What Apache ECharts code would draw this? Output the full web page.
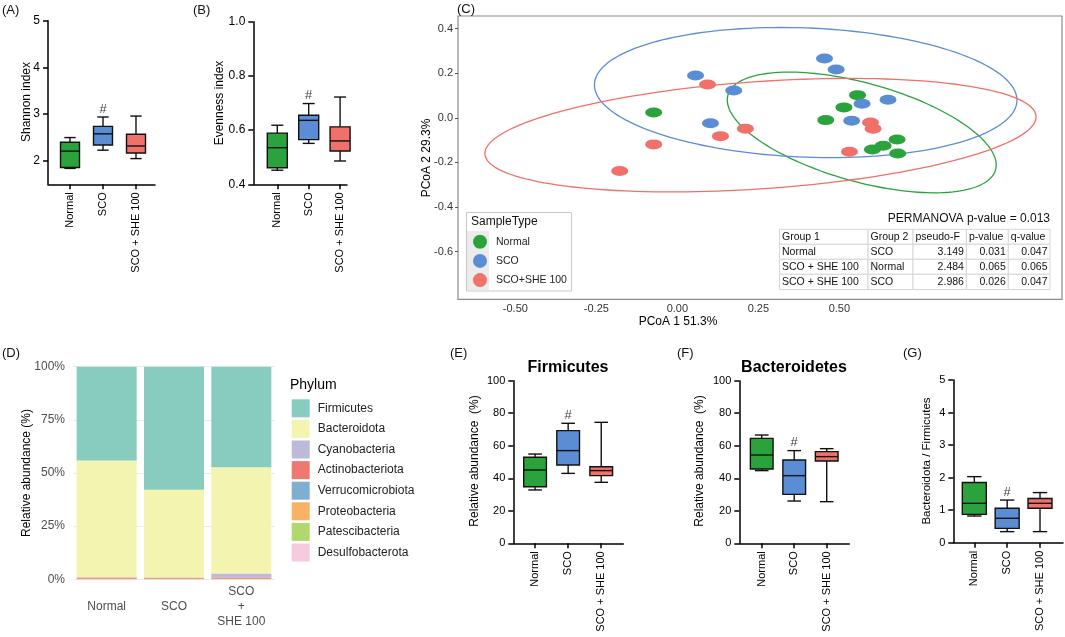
<!DOCTYPE html>
<html>
<head>
<meta charset="utf-8">
<script src="https://cdn.jsdelivr.net/npm/echarts@6/dist/echarts.min.js"></script>
<style>
  html, body { margin: 0; padding: 0; background: #fff; }
  #chart { width: 1065px; height: 637px; }
</style>
</head>
<body>
<div id="chart"></div>
<script>
// ---- data ----
var groups = ['Normal', 'SCO', 'SCO + SHE 100'];
var boxColors = ['#2ba33d', '#5b8dd5', '#f0706a'];
var sigMark = [false, true, false];   // '#' above SCO

// [min, q1, median, q3, max]
var shannonStats = [[1.84, 1.86, 2.21, 2.40, 2.50], [2.23, 2.34, 2.58, 2.74, 2.94], [2.05, 2.17, 2.32, 2.57, 2.96]];
var evennessStats = [[0.452, 0.461, 0.535, 0.589, 0.618], [0.551, 0.565, 0.636, 0.655, 0.698], [0.486, 0.523, 0.560, 0.612, 0.722]];
var firmicutesStats = [[32.8, 34.8, 45.1, 52.9, 54.9], [43.0, 48.2, 57.0, 69.3, 73.8], [37.5, 41.6, 44.7, 47.1, 74.4]];
var bacteroidetesStats = [[44.7, 45.7, 54.3, 64.5, 66.6], [26.0, 30.1, 41.6, 51.2, 57.0], [25.6, 50.6, 53.3, 56.4, 58.2]];
var ratioStats = [[0.82, 0.87, 1.21, 1.85, 2.03], [0.34, 0.44, 0.75, 1.06, 1.31], [0.34, 1.06, 1.21, 1.36, 1.54]];

// PCoA points [PCoA1, PCoA2]
var pcoaNormal = [[-0.073, 0.024], [0.556, 0.102], [0.514, 0.047], [0.458, -0.010], [0.678, -0.097], [0.635, -0.125], [0.602, -0.142], [0.680, -0.160]];
var pcoaSCO = [[0.454, 0.266], [0.490, 0.217], [0.056, 0.190], [0.174, 0.123], [0.570, 0.063], [0.650, 0.081], [0.538, -0.013], [0.102, -0.024]];
var pcoaSHE = [[0.093, 0.150], [0.210, -0.049], [0.133, -0.082], [-0.073, -0.119], [-0.178, -0.238], [0.596, -0.021], [0.604, -0.049], [0.531, -0.152]];
// ellipse: centre x, centre y, conjugate semi-axis u (x,y), v (x,y)
var ellipseNormal = [0.569, -0.0655, 0.415, -0.146, 0, 0.228];
var ellipseSCO = [0.396, 0.1135, 0.652, -0.034, 0, 0.290];
var ellipseSHE = [0.2565, -0.0776, 0.8505, 0.082, 0, 0.241];
var sampleTypes = ['Normal', 'SCO', 'SCO+SHE 100'];

var permanovaText = 'PERMANOVA p-value = 0.013';
var permanovaHeader = ['Group 1', 'Group 2', 'pseudo-F', 'p-value', 'q-value'];
var permanovaRows = [
  ['Normal', 'SCO', '3.149', '0.031', '0.047'],
  ['SCO + SHE 100', 'Normal', '2.484', '0.065', '0.065'],
  ['SCO + SHE 100', 'SCO', '2.986', '0.026', '0.047']
];

// phylum composition (%)
var phylumNames = ['Firmicutes', 'Bacteroidota', 'Cyanobacteria', 'Actinobacteriota', 'Verrucomicrobiota', 'Proteobacteria', 'Patescibacteria', 'Desulfobacterota'];
var phylumColors = ['#88cbbf', '#f4f4b1', '#bdb9d8', '#f0796f', '#7eaed0', '#f7b263', '#b0d86c', '#f6cbe0'];
var phylumGroups = ['Normal', 'SCO', 'SCO\n+\nSHE 100'];
var abundNormal = [44.1, 54.9, 0.1, 0.6, 0.1, 0.1, 0.05, 0.05];
var abundSCO = [57.85, 41.3, 0.1, 0.5, 0.05, 0.1, 0.05, 0.05];
var abundSHE = [47.3, 50.0, 1.8, 0.6, 0.1, 0.1, 0.05, 0.05];

// ---- helpers ----
var FONT = 'Liberation Sans, Arial, sans-serif';

function boxSeries(idx, stats, boxPx) {
  return {
    type: 'custom',
    xAxisIndex: idx, yAxisIndex: idx,
    data: stats.map(function (s, i) { return [i].concat(s); }),
    encode: { x: 0, y: [1, 2, 3, 4, 5] },
    renderItem: function (params, api) {
      var i = api.value(0);
      var lo = api.coord([i, api.value(1)]);
      var q1 = api.coord([i, api.value(2)]);
      var md = api.coord([i, api.value(3)]);
      var q3 = api.coord([i, api.value(4)]);
      var hi = api.coord([i, api.value(5)]);
      var x = lo[0], h = boxPx / 2, c = boxPx * 0.3;
      var st = { stroke: '#111', lineWidth: 1.4 };
      var kids = [
        { type: 'line', shape: { x1: x, y1: hi[1], x2: x, y2: q3[1] }, style: st },
        { type: 'line', shape: { x1: x, y1: q1[1], x2: x, y2: lo[1] }, style: st },
        { type: 'line', shape: { x1: x - c, y1: hi[1], x2: x + c, y2: hi[1] }, style: st },
        { type: 'line', shape: { x1: x - c, y1: lo[1], x2: x + c, y2: lo[1] }, style: st },
        { type: 'rect', shape: { x: x - h, y: q3[1], width: boxPx, height: q1[1] - q3[1] },
          style: { fill: boxColors[i], stroke: '#111', lineWidth: 1.4 } },
        { type: 'line', shape: { x1: x - h, y1: md[1], x2: x + h, y2: md[1] }, style: st }
      ];
      if (sigMark[i]) {
        kids.push({ type: 'text', x: x, y: hi[1] - 8,
          style: { text: '#', fill: '#444', font: '13px ' + FONT, align: 'center', verticalAlign: 'middle' } });
      }
      return { type: 'group', children: kids };
    }
  };
}

function gpX(idx, min, max, fs) {
  return {
    type: 'value', gridIndex: idx, min: min, max: max, position: 'bottom',
    axisLine: { show: true, onZero: false, lineStyle: { color: '#000', width: 1.5 } },
    axisTick: { show: true, customValues: [0, 1, 2], length: 5, lineStyle: { color: '#000', width: 1.5 } },
    axisLabel: { customValues: [0, 1, 2], rotate: 90, margin: 8, fontSize: fs, color: '#000',
      formatter: function (v) { return groups[Math.round(v)]; } },
    splitLine: { show: false }
  };
}

function gpY(idx, min, max, ticks, fs, digits) {
  return {
    type: 'value', gridIndex: idx, min: min, max: max,
    axisLine: { show: true, onZero: false, lineStyle: { color: '#000', width: 1.5 } },
    axisTick: { show: true, customValues: ticks, length: 5, lineStyle: { color: '#000', width: 1.5 } },
    axisLabel: { customValues: ticks, margin: 8, fontSize: fs, color: '#000',
      formatter: function (v) { return v.toFixed(digits); } },
    splitLine: { show: false }
  };
}

function txt(x, y, s, size, opts) {
  opts = opts || {};
  return {
    type: 'text', x: x, y: y, rotation: opts.rot || 0, z: 30,
    style: { text: s, font: (opts.bold ? 'bold ' : '') + size + 'px ' + FONT, fill: opts.color || '#111',
      align: opts.align || 'center', verticalAlign: 'middle' }
  };
}

function ellipseSeries() {
  return {
    type: 'custom', xAxisIndex: 2, yAxisIndex: 2, z: 1,
    data: [ellipseNormal, ellipseSCO, ellipseSHE],
    encode: { x: 0, y: 1 },
    renderItem: function (params, api) {
      var e = [0, 1, 2, 3, 4, 5].map(function (k) { return api.value(k); });
      var pts = [];
      for (var k = 0; k <= 160; k++) {
        var t = 2 * Math.PI * k / 160;
        pts.push(api.coord([e[0] + e[2] * Math.cos(t) + e[4] * Math.sin(t),
                            e[1] + e[3] * Math.cos(t) + e[5] * Math.sin(t)]));
      }
      return { type: 'polyline', shape: { points: pts },
        style: { stroke: boxColors[params.dataIndex], fill: 'none', lineWidth: 1.3 } };
    }
  };
}

// ---- graphic: titles, legend box, table ----
var graphic = [
  txt(2, 10, '(A)', 13, { align: 'left' }),
  txt(193, 10, '(B)', 13, { align: 'left' }),
  txt(457, 9, '(C)', 13, { align: 'left' }),
  txt(2, 353, '(D)', 13, { align: 'left' }),
  txt(450, 353, '(E)', 13, { align: 'left' }),
  txt(677, 353, '(F)', 13, { align: 'left' }),
  txt(903, 353, '(G)', 13, { align: 'left' }),
  txt(27, 102, 'Shannon index', 12, { rot: Math.PI / 2, color: '#000' }),
  txt(220, 103, 'Evenness index', 12, { rot: Math.PI / 2, color: '#000' }),
  txt(427, 158, 'PCoA 2 29.3%', 12, { rot: Math.PI / 2, color: '#000' }),
  txt(678, 322, 'PCoA 1 51.3%', 12, { color: '#000' }),
  txt(27, 473, 'Relative abundance (%)', 12, { rot: Math.PI / 2, color: '#000' }),
  txt(290, 385, 'Phylum', 14, { align: 'left', color: '#000' }),
  txt(568, 368, 'Firmicutes', 16, { bold: true, color: '#000' }),
  txt(794, 368, 'Bacteroidetes', 16, { bold: true, color: '#000' }),
  txt(475, 461, 'Relative abundance  (%)', 12, { rot: Math.PI / 2, color: '#000' }),
  txt(700, 461, 'Relative abundance  (%)', 12, { rot: Math.PI / 2, color: '#000' }),
  txt(927, 461, 'Bacteroidota / Firmicutes', 11.5, { rot: Math.PI / 2, color: '#000' }),
  // C legend box
  { type: 'rect', z: 15, shape: { x: 466.5, y: 212.5, width: 105, height: 78.5 },
    style: { fill: '#fff', stroke: '#c8c8c8', lineWidth: 1 } },
  { type: 'rect', z: 16, shape: { x: 467, y: 231, width: 22, height: 59 }, style: { fill: '#ececec' } },
  txt(471, 222, 'SampleType', 12, { align: 'left', color: '#111' }),
  txt(1050, 219, permanovaText, 12, { align: 'right', color: '#111' })
];
(function () {
  var colX = [779.5, 868, 913, 966.4, 1008.3, 1050];
  var rowY = [229.3, 244.3, 259.3, 274.3, 289.5];
  var rows = [permanovaHeader].concat(permanovaRows);
  rows.forEach(function (r, ri) {
    r.forEach(function (cell, ci) {
      graphic.push({ type: 'rect', z: 15,
        shape: { x: colX[ci], y: rowY[ri], width: colX[ci + 1] - colX[ci], height: rowY[ri + 1] - rowY[ri] },
        style: { fill: '#fff', stroke: '#d6d6d6', lineWidth: 1 } });
      var right = ri > 0 && ci >= 2;
      graphic.push(txt(right ? colX[ci + 1] - 2.5 : colX[ci] + 2.5, (rowY[ri] + rowY[ri + 1]) / 2, cell, 10.5,
        { align: right ? 'right' : 'left', color: '#111' }));
    });
  });
})();

// ---- stacked bars (bottom-up order) ----
var barSeries = [];
for (var p = phylumNames.length - 1; p >= 0; p--) {
  barSeries.push({
    type: 'bar', name: phylumNames[p], stack: 'phylum', xAxisIndex: 3, yAxisIndex: 3,
    barWidth: 60, itemStyle: { color: phylumColors[p] },
    data: [abundNormal[p], abundSCO[p], abundSHE[p]]
  });
}

var pcoaSeries = [pcoaNormal, pcoaSCO, pcoaSHE].map(function (d, i) {
  return { type: 'scatter', name: sampleTypes[i], xAxisIndex: 2, yAxisIndex: 2, z: 3,
    symbol: 'circle', symbolSize: [17, 10], itemStyle: { color: boxColors[i], opacity: 1 }, data: d };
});

var option = {
  animation: false,
  textStyle: { fontFamily: FONT },
  grid: [
    { left: 48, top: 20.7, width: 107, height: 163.6 },
    { left: 253.3, top: 21.7, width: 93.7, height: 162.6 },
    { left: 458, top: 16, width: 604, height: 283.3, show: true, borderColor: '#8c8c8c', borderWidth: 1.2, backgroundColor: '#fff' },
    { left: 73, top: 366.7, width: 202, height: 212.6 },
    { left: 513.3, top: 380.7, width: 110, height: 162.6 },
    { left: 739.3, top: 380.7, width: 110, height: 162.6 },
    { left: 953.3, top: 380, width: 109.7, height: 162.7 }
  ],
  xAxis: [
    gpX(0, -0.667, 2.576, 11),
    gpX(1, -0.764, 2.22, 11),
    { type: 'value', gridIndex: 2, min: -0.677, max: 1.187, position: 'bottom',
      axisLine: { show: false, onZero: false }, axisTick: { show: false },
      axisLabel: { customValues: [-0.5, -0.25, 0, 0.25, 0.5], margin: 4, fontSize: 11, color: '#333',
        formatter: function (v) { return v.toFixed(2); } },
      splitLine: { show: false } },
    { type: 'category', gridIndex: 3, data: phylumGroups,
      axisLine: { show: false }, axisTick: { show: false },
      axisLabel: { fontSize: 12, color: '#4d4d4d', margin: 27, verticalAlign: 'middle', lineHeight: 15 } },
    gpX(4, -0.658, 2.667, 11),
    gpX(5, -0.69, 2.695, 11),
    gpX(6, -0.64, 2.70, 11)
  ],
  yAxis: [
    gpY(0, 1.5, 5, [2, 3, 4, 5], 12, 0),
    gpY(1, 0.4, 1.0, [0.4, 0.6, 0.8, 1.0], 12, 1),
    { type: 'value', gridIndex: 2, min: -0.814, max: 0.457, position: 'left',
      axisLine: { show: false, onZero: false },
      axisTick: { show: true, customValues: [-0.6, -0.4, -0.2, 0, 0.2, 0.4], length: 3, lineStyle: { color: '#555' } },
      axisLabel: { customValues: [-0.6, -0.4, -0.2, 0, 0.2, 0.4], margin: 5, fontSize: 11, color: '#333',
        formatter: function (v) { return v.toFixed(1); } },
      splitLine: { show: false } },
    { type: 'value', gridIndex: 3, min: 0, max: 100, interval: 25,
      axisLine: { show: false }, axisTick: { show: false },
      axisLabel: { formatter: '{value}%', fontSize: 12, color: '#4d4d4d', margin: 8 },
      splitLine: { lineStyle: { color: '#ebebeb', width: 1 } } },
    gpY(4, 0, 100, [0, 20, 40, 60, 80, 100], 11, 0),
    gpY(5, 0, 100, [0, 20, 40, 60, 80, 100], 11, 0),
    gpY(6, 0, 5, [0, 1, 2, 3, 4, 5], 11, 0)
  ],
  legend: [
    { data: sampleTypes, orient: 'vertical', left: 468, top: 229.7, itemWidth: 14, itemHeight: 14,
      itemGap: 5.2, icon: 'circle', selectedMode: false, z: 20,
      textStyle: { fontSize: 10.5, color: '#222', padding: [0, 0, 0, 4] } },
    { data: phylumNames, orient: 'vertical', left: 286.7, top: 394.3, itemWidth: 18, itemHeight: 18,
      itemGap: 2.6, icon: 'rect', selectedMode: false,
      textStyle: { fontSize: 12, color: '#222', padding: [0, 0, 0, 3] } }
  ],
  graphic: graphic,
  series: [
    boxSeries(0, shannonStats, 19),
    boxSeries(1, evennessStats, 20),
    ellipseSeries()
  ].concat(pcoaSeries, barSeries, [
    boxSeries(4, firmicutesStats, 22.7),
    boxSeries(5, bacteroidetesStats, 22.7),
    boxSeries(6, ratioStats, 24)
  ])
};

var chart = echarts.init(document.getElementById('chart'));
chart.setOption(option);
</script>
</body>
</html>
